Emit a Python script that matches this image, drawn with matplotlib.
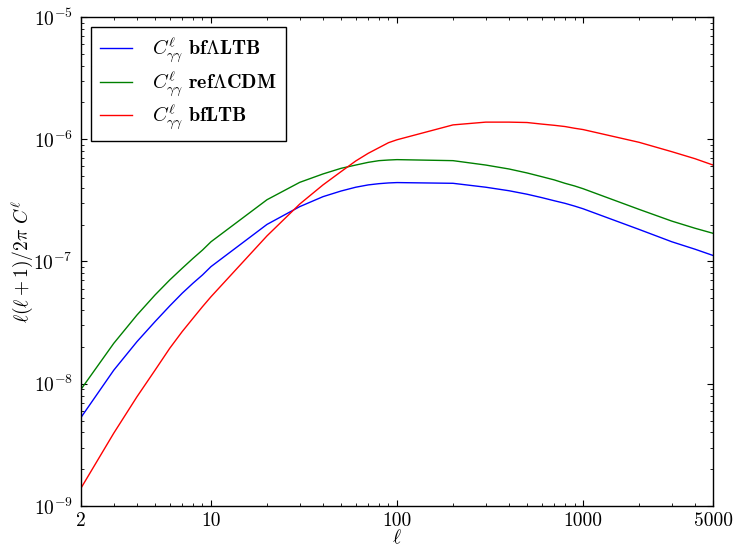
import numpy as np
import matplotlib
matplotlib.use('Agg')
import matplotlib.pyplot as plt
from matplotlib.ticker import FixedLocator, FixedFormatter, LogLocator, NullFormatter

plt.rcParams['mathtext.fontset'] = 'cm'
plt.rcParams['font.family'] = 'serif'
plt.rcParams['font.serif'] = ['cmr10', 'DejaVu Serif']
plt.rcParams['axes.unicode_minus'] = False
plt.rcParams['axes.formatter.use_mathtext'] = True

# multipoles where the spectra were sampled
ell = [2, 3, 4, 5, 6, 7, 8, 9, 10, 20, 30, 40, 50, 60, 70, 80, 90, 100,
       200, 300, 400, 500, 600, 700, 800, 900, 1000, 2000, 3000, 4000, 5000]

# l(l+1)/2pi C_l for each model
bf_lambda_ltb = [5.3e-9, 1.29e-8, 2.21e-8, 3.22e-8, 4.33e-8, 5.50e-8, 6.64e-8, 7.76e-8, 9.08e-8,
                 2.01e-7, 2.81e-7, 3.39e-7, 3.77e-7, 4.05e-7, 4.23e-7, 4.33e-7, 4.39e-7, 4.42e-7,
                 4.36e-7, 4.05e-7, 3.79e-7, 3.55e-7, 3.33e-7, 3.14e-7, 2.99e-7, 2.84e-7, 2.70e-7,
                 1.83e-7, 1.45e-7, 1.26e-7, 1.12e-7]
ref_lcdm = [9.0e-9, 2.14e-8, 3.65e-8, 5.32e-8, 7.06e-8, 8.80e-8, 1.06e-7, 1.24e-7, 1.45e-7,
            3.2e-7, 4.44e-7, 5.20e-7, 5.78e-7, 6.15e-7, 6.47e-7, 6.68e-7, 6.76e-7, 6.81e-7,
            6.68e-7, 6.15e-7, 5.71e-7, 5.30e-7, 4.94e-7, 4.65e-7, 4.36e-7, 4.15e-7, 3.94e-7,
            2.67e-7, 2.14e-7, 1.87e-7, 1.70e-7]
bf_ltb = [1.4e-9, 3.94e-9, 7.83e-9, 1.29e-8, 1.95e-8, 2.67e-8, 3.43e-8, 4.27e-8, 5.15e-8,
          1.62e-7, 2.95e-7, 4.23e-7, 5.43e-7, 6.64e-7, 7.67e-7, 8.53e-7, 9.37e-7, 9.9e-7,
          1.31e-6, 1.38e-6, 1.38e-6, 1.37e-6, 1.33e-6, 1.30e-6, 1.27e-6, 1.23e-6, 1.20e-6,
          9.44e-7, 7.91e-7, 6.93e-7, 6.15e-7]

xticks = [2, 10, 100, 1000, 5000]
xticklabels = ['2', '10', '100', '1000', '5000']

fig = plt.figure(figsize=(7.35, 5.46), dpi=100, facecolor='white')
ax = fig.add_axes([0.1102, 0.0733, 0.8599, 0.8956])

ax.plot(ell, bf_lambda_ltb, color='b', lw=1.0, label=r'$C^{\ell}_{\gamma\gamma}\ \mathbf{bf\Lambda LTB}$')
ax.plot(ell, ref_lcdm, color='g', lw=1.0, label=r'$C^{\ell}_{\gamma\gamma}\ \mathbf{ref\Lambda CDM}$')
ax.plot(ell, bf_ltb, color='r', lw=1.0, label=r'$C^{\ell}_{\gamma\gamma}\ \mathbf{bfLTB}$')

ax.set_xscale('log')
ax.set_yscale('log')
ax.set_xlim(2, 5000)
ax.set_ylim(1e-9, 1e-5)

ax.xaxis.set_major_locator(FixedLocator(xticks))
ax.xaxis.set_major_formatter(FixedFormatter(xticklabels))
ax.xaxis.set_minor_locator(LogLocator(base=10, subs=np.arange(2, 10)))
ax.xaxis.set_minor_formatter(NullFormatter())
ax.yaxis.set_minor_locator(LogLocator(base=10, subs=np.arange(2, 10)))
ax.yaxis.set_minor_formatter(NullFormatter())

ax.tick_params(which='both', direction='in', top=True, right=True, labelsize=14, pad=6)
ax.tick_params(axis='x', which='both', pad=4.5)
ax.tick_params(which='major', length=4, width=0.8)
ax.tick_params(which='minor', length=2, width=0.6)
for s in ax.spines.values():
    s.set_linewidth(1.0)

ax.set_xlabel(r'$\ell$', fontsize=14, labelpad=-1)
ax.set_ylabel(r'$\ell(\ell+1)/2\pi\ C^{\ell}$', fontsize=14, labelpad=-1)

leg = ax.legend(loc='upper left', fontsize=14.5, fancybox=False, framealpha=1,
                edgecolor='black', handlelength=1.6, handletextpad=1.0,
                borderpad=0.45, labelspacing=0.2)
leg.get_frame().set_linewidth(1.0)

fig.savefig('out.png', dpi=100, facecolor='white')
